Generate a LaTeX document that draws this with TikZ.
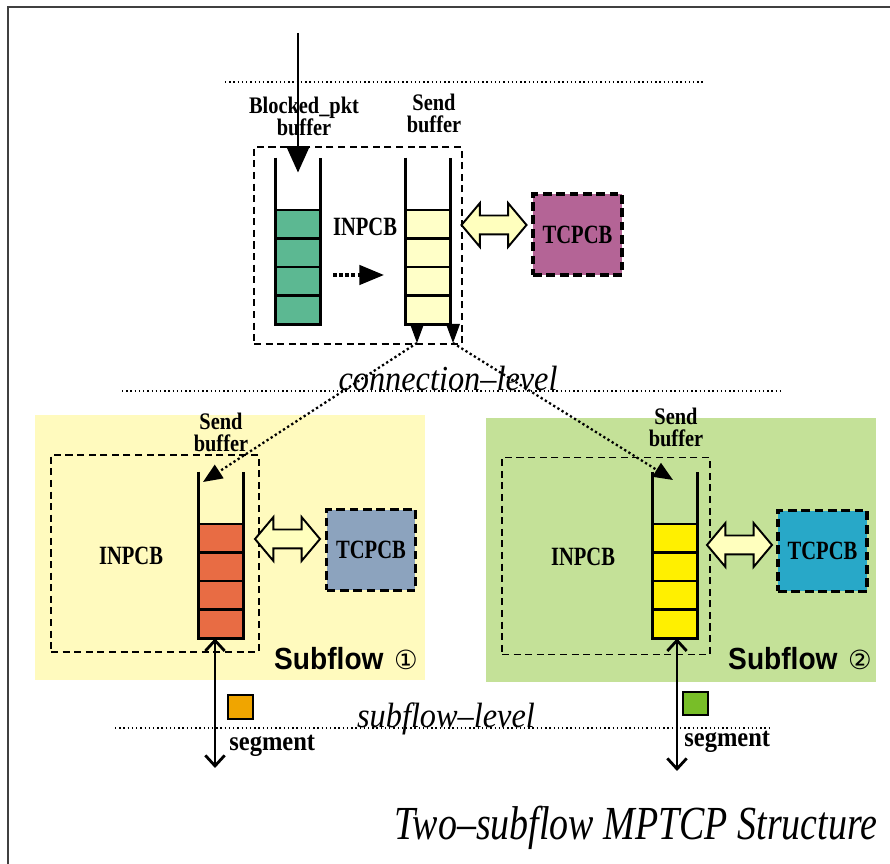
\documentclass[tikz,border=0pt]{standalone}
\usepackage{fontspec}
\setmainfont{Liberation Serif}
\setsansfont{Liberation Sans}
\newfontfamily\circfont{DejaVu Sans}
\usepackage{graphicx}
\usetikzlibrary{arrows.meta,shapes.arrows}

\definecolor{blkgreen}{RGB}{92,184,146}
\definecolor{sndyellow}{RGB}{255,255,200}
\definecolor{tcpmauve}{RGB}{180,100,150}
\definecolor{sfyellow}{RGB}{255,250,190}
\definecolor{sfgreen}{RGB}{196,225,152}
\definecolor{sndorange}{RGB}{232,108,68}
\definecolor{sndlemon}{RGB}{255,240,0}
\definecolor{tcpslate}{RGB}{140,163,190}
\definecolor{tcpcyan}{RGB}{40,168,200}
\definecolor{pktorange}{RGB}{240,165,0}
\definecolor{pktgreen}{RGB}{120,190,40}
\definecolor{swapfill}{RGB}{255,255,190}

% condensed text
\newcommand{\cnd}[2][0.86]{\scalebox{#1}[1]{#2}}

% open-top buffer: name, centre x, top y, colour
\newcommand{\bufstack}[4]{%
  \node[stack] (#1) at (#2,#3+83) {};
  \fill[#4] (#2-22.5,#3+52) rectangle (#2+22.5,#3+166);
  \foreach \row in {0,1,2,3}
    \draw[cell] (#2-22.5,#3+52+28.5*\row) -- (#2+22.5,#3+52+28.5*\row);
  \draw[wall] (#1.north west) -- (#1.south west) -- (#1.south east) -- (#1.north east);
}

\begin{document}
\begin{tikzpicture}[x=0.02cm, y=-0.02cm,
        stack/.style={minimum width=0.9cm, minimum height=3.32cm, inner sep=0},
        wall/.style={line width=1.7pt},
        cell/.style={line width=1.2pt},
        inpcb/.style={draw, line width=1.1pt, dash pattern=on 4pt off 2.6pt, minimum width=4.16cm, minimum height=3.94cm},
        tcpcb/.style={draw, line width=2.2pt, dash pattern=on 5pt off 2.6pt, minimum width=1.78cm, minimum height=1.62cm, font=\fontsize{15}{15}\bfseries\selectfont},
        lbl/.style={font=\fontsize{13.5}{12.5}\bfseries\selectfont, align=center, inner sep=0},
        pcb/.style={font=\fontsize{15}{15}\bfseries\selectfont, inner sep=0},
        level/.style={line width=0.8pt, dash pattern=on 0.8pt off 1.6pt},
        leveltxt/.style={font=\fontsize{20}{20}\itshape\selectfont, anchor=base, inner sep=0},
        link/.style={line width=1.3pt, dash pattern=on 1.3pt off 1.5pt, -{Triangle[width=9pt,length=11pt]}},
        move/.style={line width=2pt, dash pattern=on 2pt off 1.5pt, -{Triangle[width=11pt,length=14pt]}},
        inarrow/.style={line width=1.7pt, -{Triangle[width=13pt,length=15pt]}},
        swap/.style={shape=double arrow, draw, fill=swapfill, line width=1.1pt, minimum height=1.3cm, minimum width=0.84cm, double arrow head extend=0.25cm, double arrow tip angle=100, inner xsep=0, inner ysep=0.17cm},
        sfbg/.style={minimum width=7.8cm, minimum height=5.3cm, inner sep=0},
        sftxt/.style={font=\fontsize{17.4}{18}\sffamily\bfseries\selectfont, anchor=base, inner sep=0},
        pkt/.style={draw, line width=1.4pt, minimum width=0.5cm, minimum height=0.47cm, inner sep=0},
        io/.style={line width=1.6pt, {Straight Barb[length=6pt,width=11pt]}-{Straight Barb[length=6pt,width=11pt]}},
        frame/.style={line width=1.2pt, draw=black!75}
    ]
    \useasboundingbox (0,0) rectangle (890,864);
    \draw[frame] (8,870) -- (8,7) -- (895,7);

    % subflow areas
    \node[sfbg, fill=sfyellow] (sf1) at (230,547.5) {};
    \node[sfbg, fill=sfgreen] (sf2) at (681,550) {};

    % levels
    \coordinate (lv0a) at (225,82);
    \coordinate (lv0b) at (705,82);
    \coordinate (lv1a) at (122,391);
    \coordinate (lv1b) at (780,391);
    \coordinate (lv2a) at (115,728);
    \coordinate (lv2b) at (772,728);
    \draw[level] (lv0a) -- (lv0b);
    \draw[level] (lv1a) -- (lv1b);
    \draw[level] (lv2a) -- (lv2b);
    \node[leveltxt] (conn) at (448,391) {\cnd[0.92]{connection--level}};
    \node[leveltxt] (subl) at (446,728) {\cnd[0.92]{subflow--level}};

    % connection level
    \node[inpcb] (in0) at (358,245.5) {};
    \node[pcb] (in0txt) at (365,227) {\cnd[0.78]{INPCB}};
    \node[lbl] (blktxt) at (304,116) {\cnd{Blocked\_pkt}\\\cnd{buffer}};
    \node[lbl] (snd0txt) at (434,113) {\cnd{Send}\\\cnd{buffer}};
    \bufstack{blk}{298}{158}{blkgreen}
    \bufstack{snd}{428}{158}{sndyellow}
    \node[tcpcb, fill=tcpmauve] (tcb0) at (577.5,234.5) {\cnd[0.78]{TCPCB}};
    \node[swap] (sw0) at (494,225) {};
    \coordinate (mv0) at (333,275);
    \coordinate (mv1) at (384,275);
    \draw[move] (mv0) -- (mv1);
    \coordinate (src) at (298,33);
    \draw[inarrow] (src) -- ([yshift=-8.5pt]blk.north);
    \fill (410,324) -- (424,324) -- (417,343) -- cycle;
    \fill (446,324) -- (460,324) -- (453,343) -- cycle;
    \coordinate (tipL) at (417,343);
    \coordinate (tipR) at (453,343);

    % subflow 1
    \node[inpcb] (in1) at (155,553.5) {};
    \node[pcb] (in1txt) at (131,556) {\cnd[0.78]{INPCB}};
    \node[lbl] (snd1txt) at (221,432) {\cnd{Send}\\\cnd{buffer}};
    \bufstack{sb1}{221}{472}{sndorange}
    \node[tcpcb, fill=tcpslate] (tcb1) at (371,550) {\cnd[0.78]{TCPCB}};
    \node[swap] (sw1) at (287.5,539) {};
    \node[sftxt] (sf1txt) at (346,670) {\cnd[0.92]{Subflow}\hspace{6pt}{\circfont\mdseries\fontsize{15}{15}\selectfont ①}};
    \node[pkt, fill=pktorange] (pkt1) at (240.5,707) {};
    \node[lbl, font=\fontsize{15.5}{16}\bfseries\selectfont, anchor=base west] (seg1) at (229,751) {\cnd[0.9]{segment}};
    \coordinate (io1) at (215,768);
    \draw[io] (io1 |- sb1.south) -- (io1);

    % subflow 2
    \node[inpcb] (in2) at (606,556) {};
    \node[pcb] (in2txt) at (583,557) {\cnd[0.78]{INPCB}};
    \node[lbl] (snd2txt) at (676,427) {\cnd{Send}\\\cnd{buffer}};
    \bufstack{sb2}{675}{472}{sndlemon}
    \node[tcpcb, fill=tcpcyan] (tcb2) at (822.5,551) {\cnd[0.78]{TCPCB}};
    \node[swap] (sw2) at (739.5,545) {};
    \node[sftxt] (sf2txt) at (800,670) {\cnd[0.92]{Subflow}\hspace{6pt}{\circfont\mdseries\fontsize{15}{15}\selectfont ②}};
    \node[pkt, fill=pktgreen] (pkt2) at (695.5,703.5) {};
    \node[lbl, font=\fontsize{15.5}{16}\bfseries\selectfont, anchor=base west] (seg2) at (684,747) {\cnd[0.9]{segment}};
    \coordinate (io2) at (677,771);
    \draw[io] (io2 |- sb2.south) -- (io2);

    % links between levels
    \coordinate (sb1in) at (203,482);
    \coordinate (sb2in) at (673,480);
    \draw[link] (tipL) -- (sb1in);
    \draw[link] (tipR) -- (sb2in);

    \node[font=\fontsize{27}{28}\itshape\selectfont, anchor=base, inner sep=0] (title) at (636,840) {\cnd[0.8]{Two--subflow MPTCP Structure}};
\end{tikzpicture}
\end{document}
